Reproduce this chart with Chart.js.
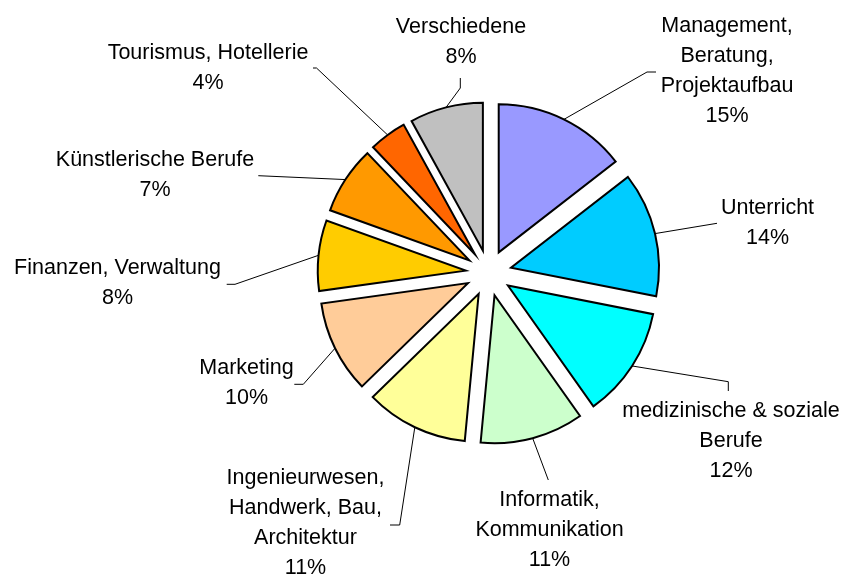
<!DOCTYPE html>
<html>
<head>
<meta charset="utf-8">
<script src="https://cdn.jsdelivr.net/npm/chart.js@4.4.0/dist/chart.umd.min.js"></script>
<style>
  html, body { margin: 0; padding: 0; background: #fff; }
  #wrap { width: 841px; height: 574px; }
</style>
</head>
<body>
<div id="wrap"><canvas id="pieChart" width="841" height="574"></canvas></div>
<script>
const categories = [
  ["Management,", "Beratung,", "Projektaufbau"],
  ["Unterricht"],
  ["medizinische & soziale", "Berufe"],
  ["Informatik,", "Kommunikation"],
  ["Ingenieurwesen,", "Handwerk, Bau,", "Architektur"],
  ["Marketing"],
  ["Finanzen, Verwaltung"],
  ["Künstlerische Berufe"],
  ["Tourismus, Hotellerie"],
  ["Verschiedene"]
];
const shares = [14.5, 13.6, 12.1, 11.3, 11.2, 10.1, 7.7, 7.4, 4.1, 8.0];
const sliceColors = [
  "#9999FF", "#00CCFF", "#00FFFF", "#CCFFCC", "#FFFF99",
  "#FFCC99", "#FFCC00", "#FF9900", "#FF6600", "#C0C0C0"
];

// label placement: centre of the first text line, then the leader line bends (label side first)
const labelSpots = [
  [727, 26], [767.5, 208.5], [731, 411], [549.5, 500], [305.5, 478.5],
  [246.5, 368.3], [117.5, 268.3], [155, 160], [208, 53], [461, 27]
];
const leaderBends = [
  [[656, 72], [647, 72]],
  [[717, 223.3]],
  [[728.3, 391], [728.3, 381.7]],
  [[548.3, 480]],
  [[390, 525], [399.7, 525]],
  [[294.3, 384.3], [303.3, 384.3]],
  [[226.7, 284.3], [235, 284.3]],
  [[258.3, 175.7]],
  [[313, 68], [316.5, 68]],
  [[460.3, 78], [460.3, 88]]
];

const explode = 23;
const lineGap = 30;

const total = shares.reduce((a, b) => a + b, 0);
const pctText = v => Math.round(Number((v * 100 / total).toFixed(4))) + "%";

// draw every slice pulled out along its middle angle
const explodedArcs = {
  id: "explodedArcs",
  beforeDatasetDraw(chart, args) {
    const ctx = chart.ctx;
    args.meta.data.forEach(arc => {
      const mid = (arc.startAngle + arc.endAngle) / 2;
      ctx.save();
      ctx.translate(Math.cos(mid) * explode, Math.sin(mid) * explode);
      arc.draw(ctx);
      ctx.restore();
    });
    return false;
  }
};

const sliceLabels = {
  id: "sliceLabels",
  afterDraw(chart) {
    const ctx = chart.ctx;
    const arcs = chart.getDatasetMeta(0).data;
    ctx.save();
    ctx.strokeStyle = "#000";
    ctx.lineWidth = 1;
    arcs.forEach((arc, i) => {
      const mid = (arc.startAngle + arc.endAngle) / 2;
      const rr = arc.outerRadius + explode;
      const bends = leaderBends[i];
      ctx.beginPath();
      ctx.moveTo(bends[0][0], bends[0][1]);
      bends.slice(1).forEach(p => ctx.lineTo(p[0], p[1]));
      ctx.lineTo(arc.x + Math.cos(mid) * rr, arc.y + Math.sin(mid) * rr);
      ctx.stroke();
    });

    ctx.fillStyle = "#000";
    ctx.font = "21.5px 'Liberation Sans', Arial, sans-serif";
    ctx.textAlign = "center";
    ctx.textBaseline = "middle";
    categories.forEach((lines, i) => {
      const [x, y] = labelSpots[i];
      lines.concat([pctText(shares[i])]).forEach((t, k) => {
        ctx.fillText(t, x, y + k * lineGap);
      });
    });
    ctx.restore();
  }
};

let ctx = document.getElementById("pieChart").getContext("2d");

let pieChart = new Chart(ctx, {
  type: "pie",
  data: {
    labels: categories,
    datasets: [
      {
        data: shares,
        backgroundColor: sliceColors,
        borderColor: "#000",
        borderWidth: 2,
        borderJoinStyle: "miter",
        radius: 148
      }
    ]
  },
  options: {
    responsive: false,
    animation: false,
    events: [],
    radius: 148,
    layout: {
      padding: { left: 330, right: 193.8, top: 120, bottom: 148 }
    },
    plugins: {
      legend: { display: false },
      tooltip: { enabled: false }
    }
  },
  plugins: [explodedArcs, sliceLabels]
});
</script>
</body>
</html>
